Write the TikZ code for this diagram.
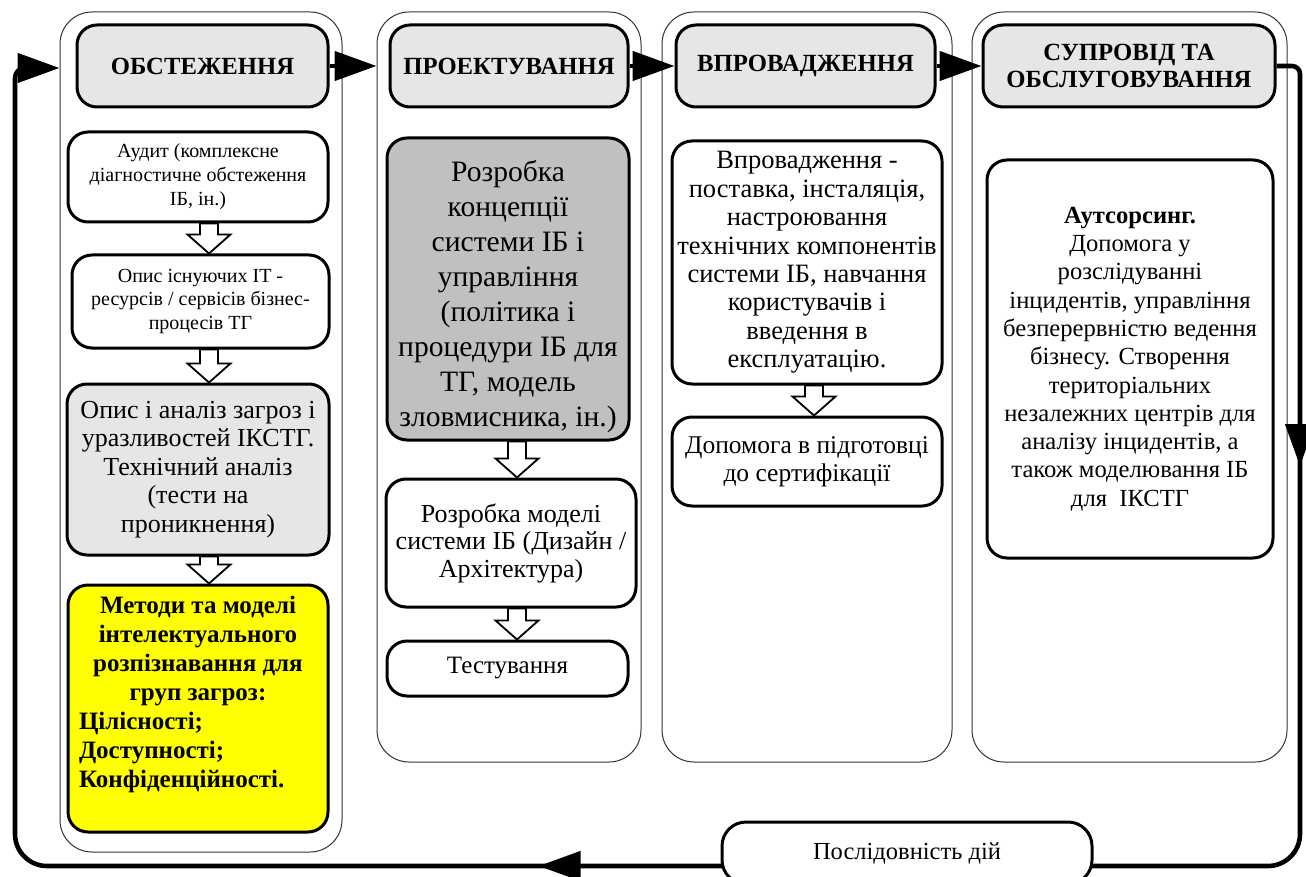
\documentclass[tikz,border=0pt]{standalone}
\usepackage{fontspec}
\setmainfont{Liberation Serif}
\usetikzlibrary{arrows.meta,calc}

\definecolor{hdrgray}{HTML}{E6E6E6}
\definecolor{darkgray}{HTML}{C0C0C0}
\definecolor{hiyellow}{HTML}{FFFF00}

% vertical hollow block arrow between two stacked boxes, at a given x
\newcommand\hollowdown[3]{%
  \draw[hollow] let \p1=(#1.south), \p2=(#2.north) in
    ({#3pt-9pt},\y1) -- ({#3pt+9pt},\y1) -- ({#3pt+9pt},\y2+19pt)
    -- ({#3pt+21.5pt},\y2+19pt) -- (#3pt,\y2) -- ({#3pt-21.5pt},\y2+19pt)
    -- ({#3pt-9pt},\y2+19pt) -- cycle;}

\tikzset{
  column/.style={draw=black!80, line width=1pt, rounded corners=32pt, inner sep=0pt},
  header/.style={draw, fill=hdrgray, line width=3pt, rounded corners=20pt,
    inner sep=0pt, align=center, font=\fontsize{24.7}{26.5}\selectfont\bfseries},
  itembox/.style={draw, fill=white, line width=3pt, rounded corners=20pt, inner sep=0pt},
  item/.style={itembox, align=center},
  fs/.style 2 args={font=\fontsize{#1}{#2}\selectfont},
  sz/.style 2 args={minimum width=#1, minimum height=#2},
  loopline/.style={line width=4.6pt},
  flow/.style={line width=4.6pt, -{Triangle[length=42pt,width=29pt]}},
  hollow/.style={draw, fill=white, line width=1.8pt, line join=miter}
}

\begin{document}
\begin{tikzpicture}[x=1pt,y=-1pt]
\useasboundingbox (0,0) rectangle (1306,877);

% stage columns
\node[column, sz={282pt}{840pt}] (col1) at (201,432) {};
\node[column, sz={264pt}{750pt}] (col2) at (509,387) {};
\node[column, sz={290pt}{750pt}] (col3) at (807,387) {};
\node[column, sz={315pt}{750pt}] (col4) at (1129.5,387) {};

% stage headers
\node[header, sz={251pt}{82pt}] (h1) at (202.5,66) {ОБСТЕЖЕННЯ};
\node[header, sz={238pt}{82pt}] (h2) at (509,66) {ПРОЕКТУВАННЯ};
\node[header, sz={259pt}{82pt}] (h3) at (805.5,66) {ВПРОВАДЖЕННЯ};
\node[header, sz={292pt}{82pt}] (h4) at (1129,66) {СУПРОВІД ТА\\ОБСЛУГОВУВАННЯ};

% survey stage
\node[item, fs={20}{24}, sz={260pt}{90pt}] (b1) at (198,177)
  {Аудит (комплексне\\діагностичне обстеження\\ІБ, ін.)};
\node[item, fs={20}{23.5}, sz={257pt}{93pt}] (b2) at (200.5,301.5)
  {Опис існуючих ІТ -\\ресурсів / сервісів бізнес-\\процесів ТГ};
\node[item, fs={26}{28.6}, fill=hdrgray, sz={262pt}{171pt}] (b3) at (198,469.5)
  {Опис і аналіз загроз і\\уразливостей ІКСТГ.\\Технічний аналіз\\(тести на\\проникнення)};
\node[itembox, fill=hiyellow, sz={260pt}{247pt},
      font=\fontsize{25}{29}\selectfont\bfseries] (b4) at (198,708.5)
  {\parbox[c][247pt][t]{238pt}{\vspace*{11pt}\centering
    Методи та моделі\\інтелектуального\\розпізнавання для\\груп загроз:\par
    \raggedright Цілісності;\\Доступності;\\Конфіденційності.\par}};

% design stage
\node[itembox, fs={29.6}{35}, fill=darkgray, sz={242pt}{302pt}] (c1) at (508,289)
  {\parbox[c][302pt][c]{238pt}{\centering\vspace*{15pt}
    Розробка\\концепції\\системи ІБ і\\управління\\(політика і\\процедури ІБ для\\ТГ, модель\\зловмисника, ін.)\par}};
\node[item, fs={26}{27.5}, sz={250pt}{128pt}] (c2) at (511,543)
  {Розробка моделі\\системи ІБ (Дизайн /\\Архітектура)};
\node[item, fs={25}{28}, sz={241pt}{55pt}] (c3) at (507.5,668.5) {Тестування};

% deployment stage
\node[item, fs={26.5}{28.4}, sz={270pt}{243pt}] (d1) at (807,262.5)
  {Впровадження -\\поставка, інсталяція,\\настроювання\\технічних компонентів\\системи ІБ, навчання\\користувачів і\\введення в\\експлуатацію.};
\node[item, fs={25.5}{28.4}, sz={270pt}{89pt}] (d2) at (807,461.5)
  {Допомога в підготовці\\до сертифікації};

% support stage
\node[item, fs={24.6}{28.3}, sz={286pt}{398pt}] (e1) at (1130,359)
  {{\bfseries Аутсорсинг.}\\Допомога у\\розслідуванні\\інцидентів, управління\\безперервністю ведення\\бізнесу. Створення\\територіальних\\незалежних центрів для\\аналізу інцидентів, а\\також моделювання ІБ\\для\ \ ІКСТГ};

% block arrows inside the stages
\hollowdown{b1}{b2}{209}
\hollowdown{b2}{b3}{209}
\hollowdown{b3}{b4}{209}
\hollowdown{c1}{c2}{517}
\hollowdown{c2}{c3}{517}
\hollowdown{d1}{d2}{814}

% flow between stages
\draw[flow] (h1.east) -- (col2.west |- h1.east);
\draw[flow] (h2.east) -- (h3.west);
\draw[flow] (h3.east) -- (h4.west);

% return loop
\coordinate (rtop) at (1300,66);
\coordinate (rbot) at (1300,866);
\coordinate (lbot) at (15,866);
\coordinate (ltop) at (15,68);
\coordinate (rmid) at ($(rtop)!0.2!(rbot)$);
\coordinate (lmid) at ($(ltop)!0.5!(lbot)$);
\draw[loopline, rounded corners=8pt] (h4.east) -- (rtop) -- (rmid);
\draw[loopline, rounded corners=32pt] (rmid) -- (rbot) -- (lbot) -- (lmid);
\draw[flow, rounded corners=10pt] (lmid) -- (ltop) -- (col1.west |- ltop);
\draw[flow] ($(rtop)!0.3!(rbot)$) -- ($(rtop)!0.5!(rbot)$);

\node[item, fs={24.5}{28}, rounded corners=24pt, sz={370pt}{62pt}]
  (seq) at (907,853) {Послідовність дій};
\draw[flow] ($(seq.west |- lbot)!0.1!(lbot)$) -- ($(seq.west |- lbot)!0.2578!(lbot)$);
\end{tikzpicture}
\end{document}
